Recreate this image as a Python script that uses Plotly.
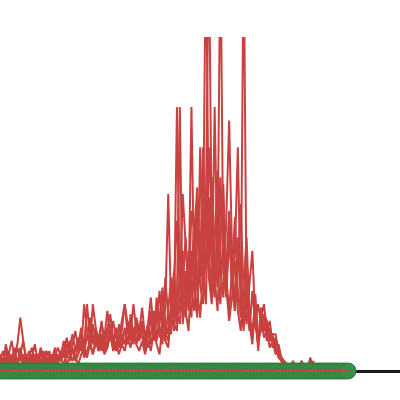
import plotly.graph_objects as go

x_index = list(range(121))

series_1 = [3,6,2,5,9,4,2,7,3,5,
            2,4,8,3,5,2,6,3,4,7,
            3,5,9,4,7,11,6,8,13,7,
            10,16,9,12,7,14,10,18,11,8,
            13,9,15,20,11,14,9,16,12,19,
            10,14,22,12,9,16,25,14,11,20,
            30,18,14,26,40,22,16,35,52,28,
            40,130,35,22,79,30,20,44,28,18,
            30,46,24,16,130,20,12,24,14,8,
            19,12,15,9,11,6,8,4,3,2,
            1,2,1,1,3,1,0,1,1,0,
            1,0,1,2,1,0,1,0,0,1,0]

series_2 = [5,2,8,4,3,7,2,5,9,3,
            6,3,5,2,7,4,3,6,2,5,
            7,4,6,10,5,8,12,6,9,5,
            11,7,20,13,9,15,8,12,17,10,
            7,14,10,12,8,17,11,9,14,10,
            8,12,18,10,15,24,13,9,18,28,
            16,79,26,18,30,22,79,25,18,36,
            25,50,130,40,28,35,130,30,22,40,
            26,18,40,22,14,30,16,10,18,8,
            14,17,10,13,8,9,5,4,2,1,
            0,1,2,1,0,1,1,4,0,1,
            0,1,1,0,2,1,0,0,1,0,0]

series_3 = [1,4,3,6,2,5,8,16,9,4,
            3,5,2,4,6,3,2,5,3,4,
            2,6,4,8,5,3,7,10,6,20,
            12,8,14,9,6,11,7,13,9,15,
            10,8,12,20,14,9,13,8,11,15,
            6,10,16,9,22,12,8,20,53,18,
            12,22,79,14,28,18,36,24,16,67,
            30,20,67,45,28,18,40,56,25,15,
            22,36,67,20,12,26,14,8,20,6,
            16,20,12,15,8,10,5,3,2,1,
            1,0,2,1,3,0,1,2,1,0,
            1,1,0,2,1,0,1,1,0,0,0]

series_4 = [4,2,6,3,1,4,7,3,5,2,
            4,7,3,5,2,4,6,2,3,5,
            4,3,7,5,9,6,4,8,11,7,
            20,10,8,13,7,10,6,9,14,8,
            12,7,10,8,15,11,20,12,9,13,
            9,14,8,12,20,10,15,28,16,11,
            28,45,25,53,38,22,48,42,55,30,
            67,40,30,58,36,25,52,41,30,46,
            25,33,18,12,27,40,16,10,21,8,
            16,10,12,7,9,5,6,3,2,1,
            1,0,1,0,1,1,0,3,0,1,
            0,1,0,1,0,0,1,0,1,0,0]

series_5 = [2,3,1,4,2,6,3,1,4,2,
            3,1,5,2,3,6,2,4,1,3,
            5,3,6,2,4,7,3,5,8,4,
            6,9,5,8,11,6,9,7,12,8,
            6,10,7,13,9,11,8,14,10,12,
            12,7,11,18,10,14,22,12,9,16,
            26,14,20,36,18,12,28,45,24,16,
            30,55,28,20,38,60,30,22,45,75,
            35,20,30,50,22,14,26,36,15,20,
            14,17,15,9,11,11,6,4,2,1,
            0,1,1,0,2,1,0,1,3,0,
            1,0,1,1,0,1,0,1,0,0,0]

series_6 = [3,1,4,2,5,3,1,6,2,4,
            1,3,2,5,1,4,2,3,5,2,
            3,4,2,5,3,6,4,2,5,7,
            4,8,5,10,6,9,5,7,11,6,
            9,5,8,6,10,7,12,8,6,9,
            5,9,6,12,8,5,14,9,7,18,
            14,12,30,20,16,36,24,18,45,26,
            20,38,52,30,22,44,58,32,24,48,
            26,18,38,28,14,34,18,10,23,10,
            12,15,9,12,7,8,4,3,2,1,
            1,3,1,0,1,1,2,1,0,1,
            1,0,1,1,0,2,1,0,0,1,0]

baseline = [0] * 121

RED = "#c8423f"
GREEN = "#3a8e48"

fig = go.Figure()
for s in [series_1, series_2, series_3, series_4, series_5, series_6]:
    fig.add_trace(go.Scatter(x=x_index, y=s, mode="lines",
                             line=dict(color=RED, width=2), showlegend=False,
                             hoverinfo="skip"))

fig.add_trace(go.Scatter(x=x_index, y=baseline, mode="markers",
                         marker=dict(color=GREEN, size=16,
                                     line=dict(color="#2f7d3c", width=1)),
                         showlegend=False, cliponaxis=False, hoverinfo="skip"))
fig.add_trace(go.Scatter(x=x_index, y=baseline, mode="lines",
                         line=dict(color=RED, width=2), showlegend=False,
                         hoverinfo="skip"))

fig.update_layout(
    width=400, height=400,
    margin=dict(l=0, r=0, t=37, b=0),
    paper_bgcolor="white", plot_bgcolor="white",
    xaxis=dict(range=[0, 137.9], showgrid=False, zeroline=False,
               showticklabels=False, showline=False, ticks=""),
    yaxis=dict(range=[-8.68, 100], showgrid=False, zeroline=True,
               zerolinecolor="#1a1a1a", zerolinewidth=3,
               showticklabels=False, showline=False, ticks=""),
)

fig.write_html("out.html", config={"displayModeBar": False},
               post_script="document.body.style.margin='0';document.body.style.padding='0';")
